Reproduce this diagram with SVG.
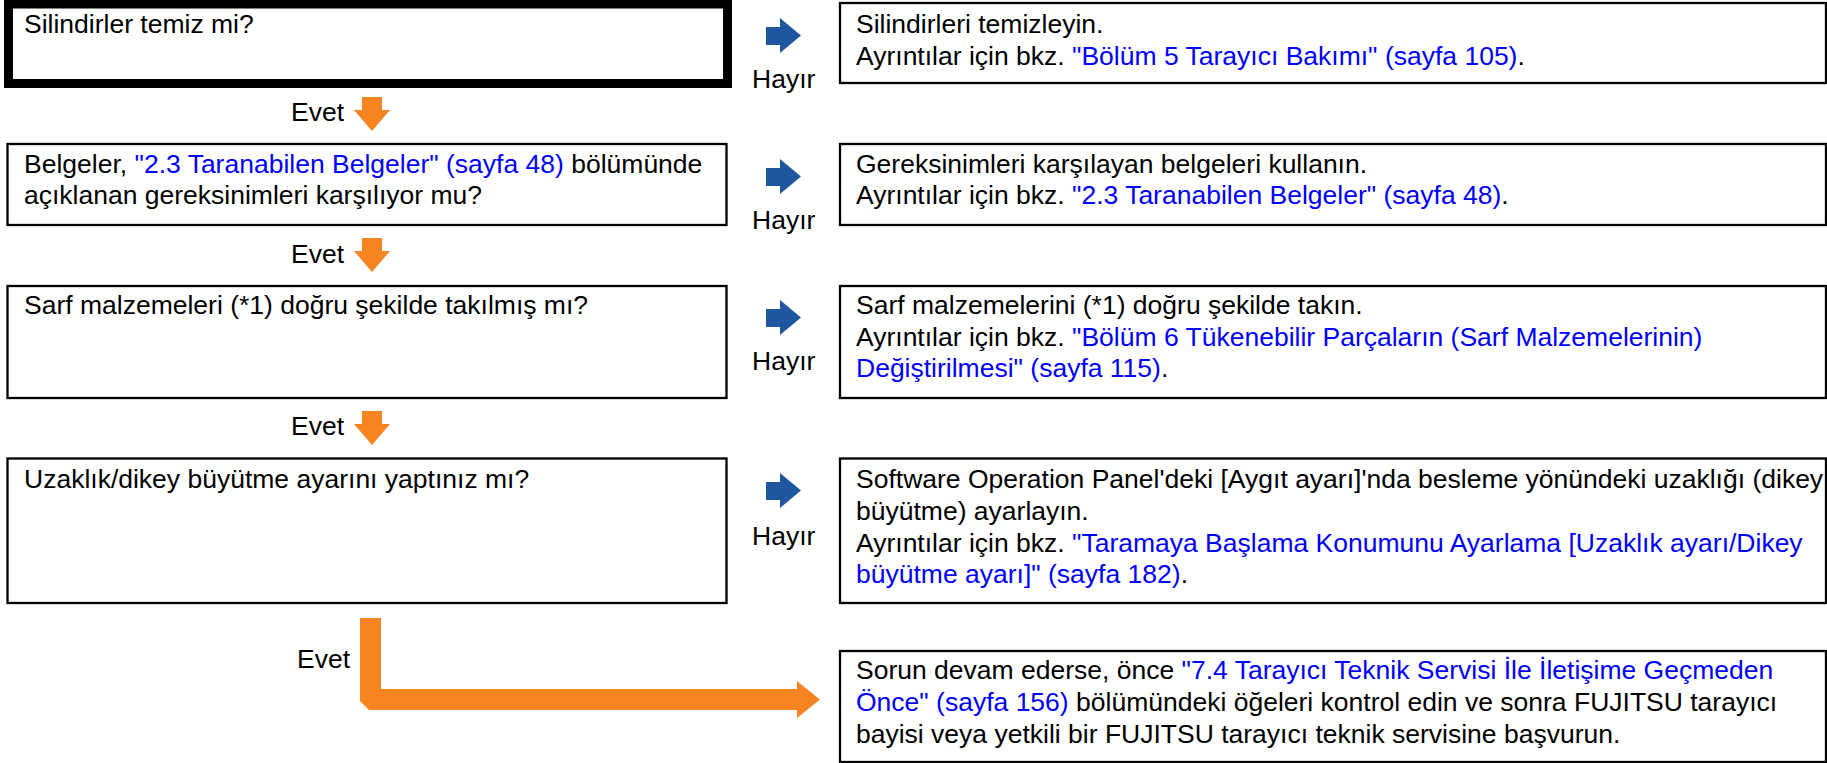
<svg xmlns="http://www.w3.org/2000/svg" width="1827" height="763" viewBox="0 0 1827 763">
<defs>
<style>
text{font-family:"Liberation Sans",Arial,sans-serif;font-size:26.5px;fill:#000}
.link{fill:#0000FF}
.box{fill:#fff;stroke:#000;stroke-width:2.3}
.thick{fill:#fff;stroke:#000;stroke-width:9}
.no{fill:#1F56A0}
.yes{fill:#F68420}
</style>
<polygon id="noArrow" points="0,9 14,9 14,0 35,17.5 14,35 14,27 0,27"/>
<polygon id="yesArrow" points="8,0 28,0 28,13 36,13 18,34 0,13 8,13"/>
</defs>
<rect width="1827" height="763" fill="#fff"/>

<g id="connectors">
<use href="#noArrow" class="no" x="766" y="18"/>
<use href="#noArrow" class="no" x="766" y="159"/>
<use href="#noArrow" class="no" x="766" y="300"/>
<use href="#noArrow" class="no" x="766" y="473"/>
<text x="752" y="88">Hayır</text>
<text x="752" y="229">Hayır</text>
<text x="752" y="370">Hayır</text>
<text x="752" y="545">Hayır</text>
<use href="#yesArrow" class="yes" x="354" y="97"/>
<use href="#yesArrow" class="yes" x="354" y="238"/>
<use href="#yesArrow" class="yes" x="354" y="411"/>
<text x="291" y="121">Evet</text>
<text x="291" y="263">Evet</text>
<text x="291" y="435">Evet</text>
<text x="297" y="668">Evet</text>
<polygon class="yes" points="360,618 381,618 381,689 797,689 797,681 820,699.5 797,718 797,710 369,710 360,701"/>
</g>

<g id="q1">
<rect class="thick" x="8.5" y="4" width="719" height="79.5"/>
<text x="24" y="33">Silindirler temiz mi?</text>
</g>
<g id="a1">
<rect class="box" x="840" y="3" width="986" height="80"/>
<text x="856" y="33">Silindirleri temizleyin.</text>
<text x="856" y="65">Ayrıntılar için bkz. <tspan class="link">"Bölüm 5 Tarayıcı Bakımı" (sayfa 105)</tspan>.</text>
</g>

<g id="q2">
<rect class="box" x="7.5" y="144" width="719" height="81"/>
<text x="24" y="173">Belgeler, <tspan class="link">"2.3 Taranabilen Belgeler" (sayfa 48)</tspan> bölümünde</text>
<text x="24" y="204">açıklanan gereksinimleri karşılıyor mu?</text>
</g>
<g id="a2">
<rect class="box" x="840" y="144" width="986" height="81"/>
<text x="856" y="173">Gereksinimleri karşılayan belgeleri kullanın.</text>
<text x="856" y="204">Ayrıntılar için bkz. <tspan class="link">"2.3 Taranabilen Belgeler" (sayfa 48)</tspan>.</text>
</g>

<g id="q3">
<rect class="box" x="7.5" y="286" width="719" height="112"/>
<text x="24" y="314">Sarf malzemeleri (*1) doğru şekilde takılmış mı?</text>
</g>
<g id="a3">
<rect class="box" x="840" y="286" width="986" height="112"/>
<text x="856" y="314">Sarf malzemelerini (*1) doğru şekilde takın.</text>
<text x="856" y="345.5">Ayrıntılar için bkz. <tspan class="link">"Bölüm 6 Tükenebilir Parçaların (Sarf Malzemelerinin)</tspan></text>
<text x="856" y="377"><tspan class="link">Değiştirilmesi" (sayfa 115)</tspan>.</text>
</g>

<g id="q4">
<rect class="box" x="7.5" y="458.5" width="719" height="144.5"/>
<text x="24" y="488">Uzaklık/dikey büyütme ayarını yaptınız mı?</text>
</g>
<g id="a4">
<rect class="box" x="840" y="458.5" width="986" height="144.5"/>
<text x="856" y="488">Software Operation Panel'deki [Aygıt ayarı]'nda besleme yönündeki uzaklığı (dikey</text>
<text x="856" y="520">büyütme) ayarlayın.</text>
<text x="856" y="552">Ayrıntılar için bkz. <tspan class="link">"Taramaya Başlama Konumunu Ayarlama [Uzaklık ayarı/Dikey</tspan></text>
<text x="856" y="583"><tspan class="link">büyütme ayarı]" (sayfa 182)</tspan>.</text>
</g>

<g id="end">
<rect class="box" x="840" y="651" width="986" height="111"/>
<text x="856" y="679">Sorun devam ederse, önce <tspan class="link">"7.4 Tarayıcı Teknik Servisi İle İletişime Geçmeden</tspan></text>
<text x="856" y="711"><tspan class="link">Önce" (sayfa 156)</tspan> bölümündeki öğeleri kontrol edin ve sonra FUJITSU tarayıcı</text>
<text x="856" y="743">bayisi veya yetkili bir FUJITSU tarayıcı teknik servisine başvurun.</text>
</g>
</svg>
